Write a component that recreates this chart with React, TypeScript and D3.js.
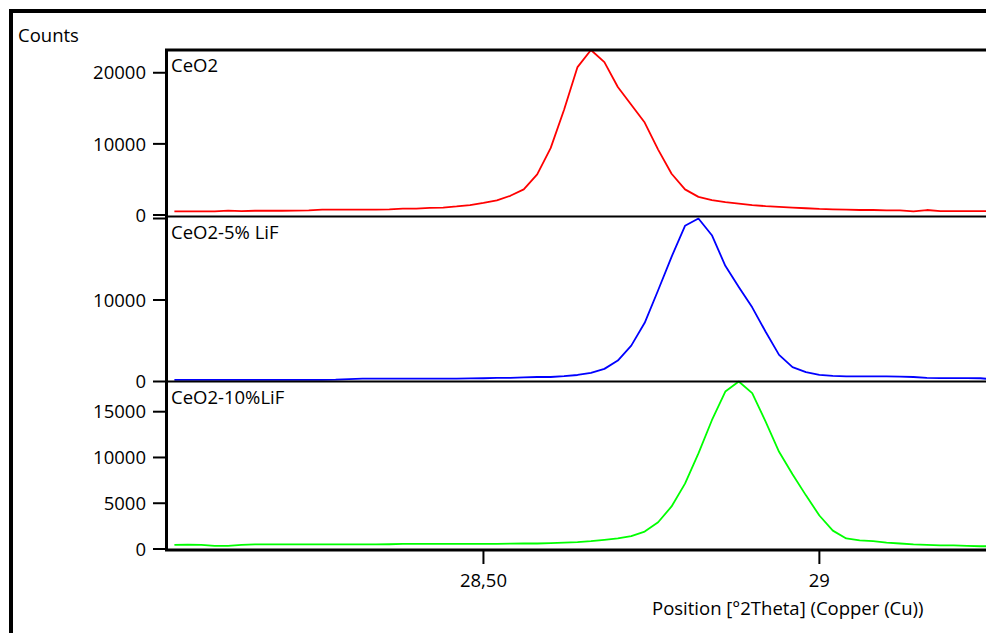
import { useEffect, useRef } from 'react';
import * as d3 from 'd3';

// 2theta positions (deg), shared by all three scans
const theta = [
  28.04, 28.06, 28.08, 28.1, 28.12, 28.14, 28.16, 28.18, 28.2, 28.22,
  28.24, 28.26, 28.28, 28.3, 28.32, 28.34, 28.36, 28.38, 28.4, 28.42,
  28.44, 28.46, 28.48, 28.5, 28.52, 28.54, 28.56, 28.58, 28.6, 28.62,
  28.64, 28.66, 28.68, 28.7, 28.72, 28.74, 28.76, 28.78, 28.8, 28.82,
  28.84, 28.86, 28.88, 28.9, 28.92, 28.94, 28.96, 28.98, 29.0, 29.02,
  29.04, 29.06, 29.08, 29.1, 29.12, 29.14, 29.16, 29.18, 29.2, 29.22,
  29.24, 29.26,
];

const ceo2 = [
  500, 500, 520, 520, 620, 540, 600, 600, 600, 620,
  650, 750, 750, 750, 750, 760, 800, 900, 900, 1000,
  1050, 1200, 1400, 1700, 2050, 2700, 3600, 5700, 9400, 14800,
  20800, 23200, 21500, 18000, 15500, 13000, 9200, 5800, 3600, 2550,
  2100, 1800, 1600, 1400, 1250, 1150, 1050, 950, 850, 800,
  750, 700, 700, 650, 650, 500, 700, 550, 550, 550,
  550, 550,
];

const ceo2Lif5 = [
  200, 200, 200, 200, 200, 200, 200, 200, 200, 200,
  200, 200, 220, 300, 350, 350, 350, 350, 350, 350,
  350, 350, 380, 400, 450, 450, 500, 550, 550, 650,
  800, 1050, 1550, 2570, 4400, 7200, 11200, 15300, 19100, 20000,
  17950, 14200, 11600, 9100, 6100, 3270, 1760, 1150, 820, 700,
  620, 620, 620, 620, 600, 550, 450, 420, 420, 420,
  400, 250,
];

const ceo2Lif10 = [
  450, 480, 450, 350, 350, 450, 500, 500, 500, 500,
  500, 500, 500, 500, 500, 500, 520, 550, 550, 550,
  550, 550, 550, 550, 560, 580, 600, 600, 650, 700,
  750, 850, 1000, 1150, 1400, 1900, 2920, 4650, 7140, 10440,
  14070, 17200, 18300, 17030, 13910, 10620, 8170, 5860, 3660, 2010,
  1150, 950, 850, 700, 600, 500, 450, 400, 400, 350,
  300, 300,
];

const panelNames = ['CeO2', 'CeO2-5% LiF', 'CeO2-10%LiF'];
const panelMax = [23200, 20000, 18300];
const panelTicks = [
  [0, 10000, 20000],
  [0, 10000],
  [0, 5000, 10000, 15000],
];
const lineColors = ['#ff0000', '#0000ff', '#00ff00'];
const xTicks = [28.5, 29];
const xTickLabels = ['28,50', '29'];

export default function App() {
  const svgRef = useRef<SVGSVGElement>(null);

  useEffect(() => {
    if (!svgRef.current) return;
    d3.select(svgRef.current).selectAll('*').remove();

    const width = 986;
    const height = 633;
    const font = '"Open Sans", "Noto Sans", sans-serif';
    const fs = 18.5;

    // plot area
    const left = 167;
    const top = 50;
    const bottom = 549;
    // panel extents (bottom = zero line, top = panel max)
    const panels = [
      { y0: 215, y1: top },
      { y0: 381.5, y1: 218.5 },
      { y0: bottom, y1: 381.5 },
    ];
    const series = [ceo2, ceo2Lif5, ceo2Lif10];

    const svg = d3
      .select(svgRef.current)
      .attr('width', width)
      .attr('height', height)
      .attr('viewBox', `0 0 ${width} ${height}`)
      .style('font-family', font);

    svg.append('rect').attr('width', width).attr('height', height).attr('fill', '#fff');

    const x = d3.scaleLinear().domain([28.029, 29.248]).range([left, width]);

    // outer frame (runs off the right and bottom edges)
    svg
      .append('path')
      .attr('d', `M11,${height} V11 H${width}`)
      .attr('fill', 'none')
      .attr('stroke', '#000')
      .attr('stroke-width', 4);

    svg
      .append('text')
      .attr('x', 18)
      .attr('y', 42)
      .attr('font-size', fs)
      .attr('fill', '#000')
      .text('Counts');

    const defs = svg.append('defs');

    panels.forEach((p, i) => {
      const y = d3.scaleLinear().domain([0, panelMax[i]]).range([p.y0, p.y1]);

      defs
        .append('clipPath')
        .attr('id', `clip-${i}`)
        .append('rect')
        .attr('x', left + 1)
        .attr('y', p.y1 - 1)
        .attr('width', width - left)
        .attr('height', p.y0 - p.y1 + 1);

      const line = d3
        .line<number>()
        .x((_, j) => x(theta[j]))
        .y((d) => y(d));

      svg
        .append('path')
        .datum(series[i])
        .attr('clip-path', `url(#clip-${i})`)
        .attr('d', line)
        .attr('fill', 'none')
        .attr('stroke', lineColors[i])
        .attr('stroke-width', 1.8)
        .attr('stroke-linejoin', 'round');

      // y axis ticks + labels
      const ay = svg.append('g');
      panelTicks[i].forEach((t) => {
        ay.append('line')
          .attr('x1', 153)
          .attr('x2', left)
          .attr('y1', y(t))
          .attr('y2', y(t))
          .attr('stroke', '#000')
          .attr('stroke-width', 2);
        ay.append('text')
          .attr('x', 146)
          .attr('y', y(t))
          .attr('dy', '0.36em')
          .attr('text-anchor', 'end')
          .attr('font-size', fs)
          .attr('fill', '#000')
          .text(String(t));
      });

      svg
        .append('text')
        .attr('x', 171)
        .attr('y', [72, 239, 404][i])
        .attr('font-size', fs)
        .attr('fill', '#000')
        .text(panelNames[i]);
    });

    // unlabeled tick at the top of the middle panel
    svg
      .append('line')
      .attr('x1', 153)
      .attr('x2', left)
      .attr('y1', 218.5)
      .attr('y2', 218.5)
      .attr('stroke', '#000')
      .attr('stroke-width', 2);

    // panel separators
    [216.5, 381.5].forEach((yy) => {
      svg
        .append('line')
        .attr('x1', left)
        .attr('x2', width)
        .attr('y1', yy)
        .attr('y2', yy)
        .attr('stroke', '#000')
        .attr('stroke-width', 2);
    });

    // plot frame
    svg
      .append('path')
      .attr('d', `M${width},${top} H${left - 0.5} V${bottom + 1} H${width}`)
      .attr('fill', 'none')
      .attr('stroke', '#000')
      .attr('stroke-width', 3);

    // x axis ticks
    xTicks.forEach((t, i) => {
      svg
        .append('line')
        .attr('x1', x(t))
        .attr('x2', x(t))
        .attr('y1', bottom + 2)
        .attr('y2', 564)
        .attr('stroke', '#000')
        .attr('stroke-width', 2);
      svg
        .append('text')
        .attr('x', x(t))
        .attr('y', 587)
        .attr('text-anchor', 'middle')
        .attr('font-size', fs)
        .attr('fill', '#000')
        .text(xTickLabels[i]);
    });

    svg
      .append('text')
      .attr('x', 652)
      .attr('y', 615)
      .attr('font-size', fs)
      .attr('fill', '#000')
      .text('Position [°2Theta] (Copper (Cu))');
  }, []);

  return (
    <svg
      ref={svgRef}
      style={{ position: 'absolute', left: 0, top: 0, display: 'block' }}
    />
  );
}
